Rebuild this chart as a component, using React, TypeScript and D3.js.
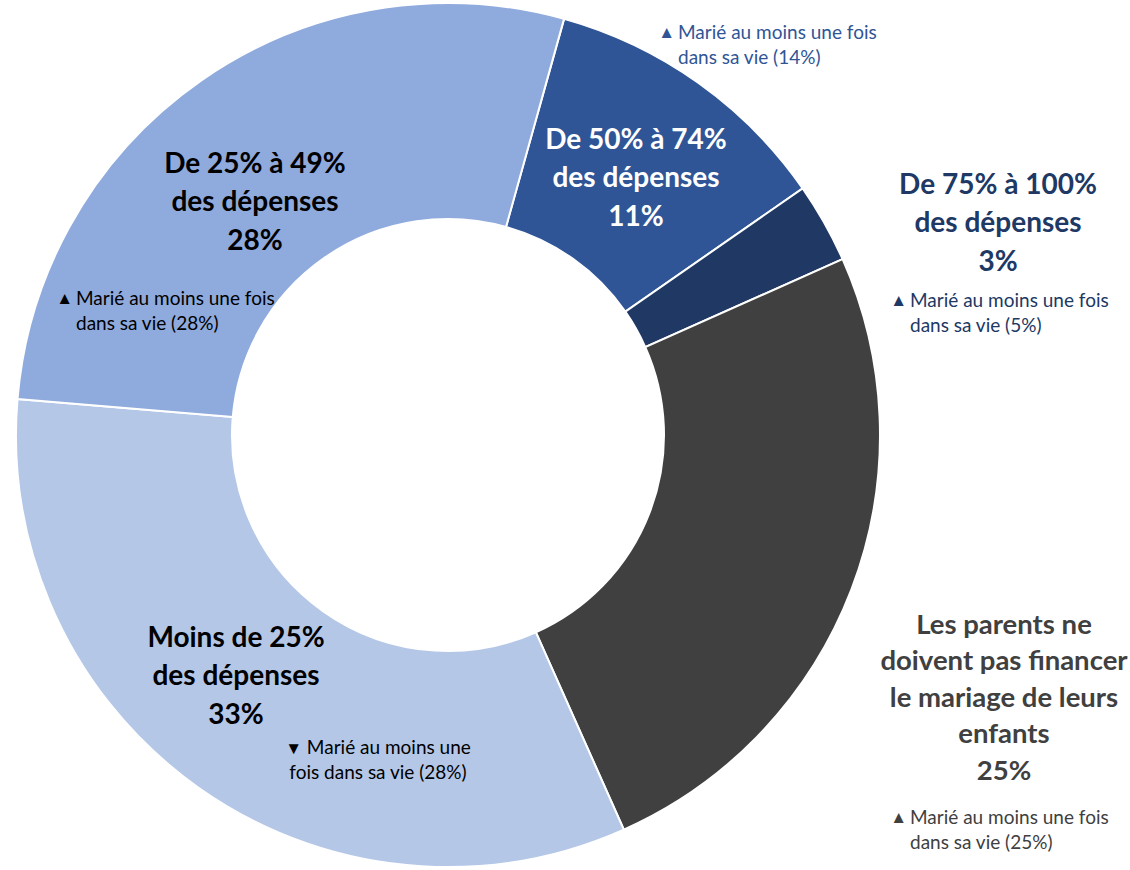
import React, { useRef, useEffect } from "react";
import * as d3 from "d3";

const categories = [
  "De 50% à 74%|des dépenses",
  "De 75% à 100%|des dépenses",
  "Les parents ne|doivent pas financer|le mariage de leurs|enfants",
  "Moins de 25%|des dépenses",
  "De 25% à 49%|des dépenses",
];
const values = [11, 3, 25, 33, 28];
const noteArrows = ["▲", "▲", "▲", "▼", "▲"];
const noteLines = [
  ["Marié au moins une fois", "dans sa vie (14%)"],
  ["Marié au moins une fois", "dans sa vie (5%)"],
  ["Marié au moins une fois", "dans sa vie (25%)"],
  ["Marié au moins une", "fois dans sa vie (28%)"],
  ["Marié au moins une fois", "dans sa vie (28%)"],
];
const colors = ["#2F5597", "#203864", "#404040", "#B4C7E7", "#8FAADC"];
const labelColors = ["#FFFFFF", "#203864", "#404040", "#000000", "#000000"];
const noteColors = ["#2F5597", "#203864", "#404040", "#000000", "#000000"];

// label layout (center of first line of bold label, note anchor)
const labelPos = [
  [636, 139],
  [998, 184],
  [1004, 624],
  [236, 637],
  [255, 163],
];
const notePos = [
  [678, 32, "start"],
  [910, 300, "start"],
  [910, 817, "start"],
  [378, 747, "middle"],
  [76, 298, "start"],
];

const App = () => {
  const ref = useRef<SVGSVGElement>(null);

  useEffect(() => {
    const svg = d3.select(ref.current);
    svg.selectAll("*").remove();
    const cx = 448, cy = 435;
    const outer = 432, inner = 216;
    const startA = 0.272;

    const pie = d3
      .pie<number>()
      .sort(null)
      .value((d) => d)
      .startAngle(startA)
      .endAngle(startA + 2 * Math.PI);
    const arc = d3.arc<d3.PieArcDatum<number>>().innerRadius(inner).outerRadius(outer);

    const g = svg.append("g").attr("transform", `translate(${cx},${cy})`);
    g.selectAll("path")
      .data(pie(values))
      .join("path")
      .attr("d", arc)
      .attr("fill", (_, i) => colors[i])
      .attr("stroke", "#fff")
      .attr("stroke-width", 2);

    const font = "Lato, 'Open Sans', sans-serif";

    categories.forEach((c, i) => {
      const lines = [...c.split("|"), `${values[i]}%`];
      const step = i === 2 ? 36.5 : 38.5;
      const t = svg
        .append("text")
        .attr("text-anchor", "middle")
        .attr("font-family", font)
        .attr("font-weight", 700)
        .attr("font-size", i === 2 ? 27.5 : 28)
        .attr("fill", labelColors[i]);
      lines.forEach((l, k) => {
        t.append("tspan")
          .attr("x", labelPos[i][0])
          .attr("y", labelPos[i][1] + k * step)
          .attr("dy", "0.35em")
          .text(l);
      });

      const [nx, ny, anchor] = notePos[i] as [number, number, string];
      const n = svg
        .append("text")
        .attr("text-anchor", anchor)
        .attr("font-family", font)
        .attr("font-size", 19)
        .attr("fill", noteColors[i]);
      noteLines[i].forEach((l, k) => {
        const tsp = n
          .append("tspan")
          .attr("x", nx)
          .attr("y", ny + k * 25.5)
          .attr("dy", "0.35em");
        if (k === 0 && anchor === "middle") {
          tsp.append("tspan").attr("font-size", 17).text(noteArrows[i]);
          tsp.append("tspan").text(` ${l}`);
        } else {
          tsp.text(l);
        }
      });
      if (anchor === "start") {
        svg
          .append("text")
          .attr("x", nx - 3)
          .attr("y", ny)
          .attr("dy", "0.33em")
          .attr("text-anchor", "end")
          .attr("font-family", font)
          .attr("font-size", 17)
          .attr("fill", noteColors[i])
          .text(noteArrows[i]);
      }
    });
  }, []);

  return (
    <svg
      ref={ref}
      width={1130}
      height={870}
      style={{ position: "absolute", left: 0, top: 0, background: "#fff" }}
    />
  );
};

export default App;
